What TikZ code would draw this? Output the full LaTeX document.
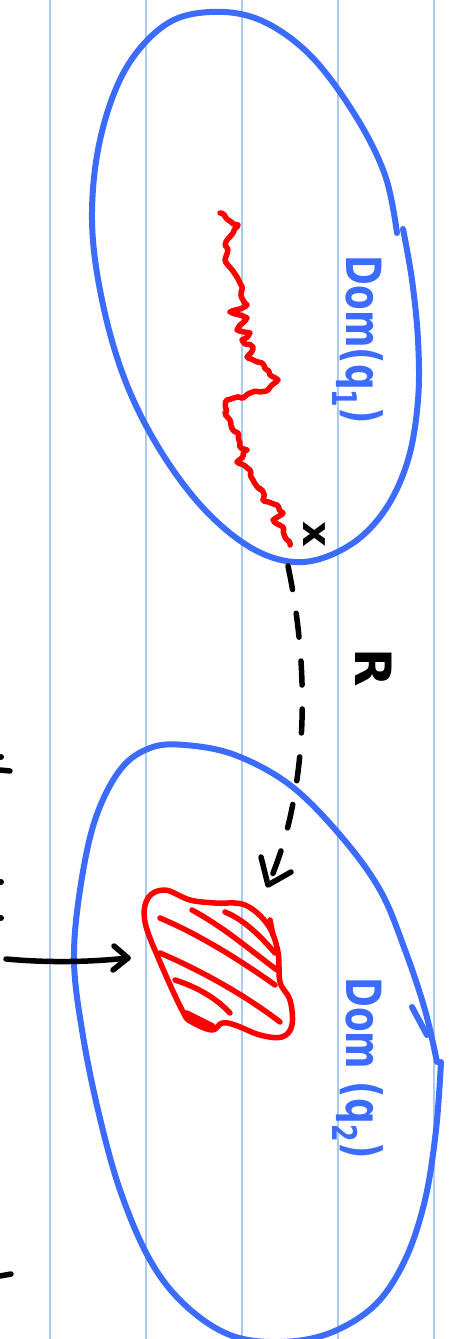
\documentclass[tikz,border=0pt]{standalone}
\usepackage{fontspec}
\setmainfont{DejaVu Sans}
\usetikzlibrary{decorations.pathmorphing}
\definecolor{penblue}{RGB}{59,108,255}
\definecolor{rulecol}{RGB}{165,205,245}
\definecolor{penred}{RGB}{255,0,0}
\tikzset{
  ruleline/.style={draw=rulecol, line width=1.8pt},
  bluepen/.style={draw=penblue, line width=6pt, line cap=round, line join=round},
  redpen/.style={draw=penred, line width=5.5pt, line cap=round, line join=round},
  blackpen/.style={draw=black, line width=5.5pt, line cap=round, line join=round},
  bluelabel/.style={text=penblue, font=\fontsize{36}{36}\selectfont\bfseries, rotate=-90, inner sep=0pt},
  blacklabel/.style={text=black, font=\fontsize{50}{50}\selectfont\bfseries, rotate=-90, inner sep=0pt}
}
\begin{document}
\begin{tikzpicture}[x=1pt,y=-1pt]
\useasboundingbox (0,0) rectangle (452,1339);
\fill[white] (0,0) rectangle (452,1339);
% ruled lines
\foreach \xx in {50,146,242,338,434} \draw[ruleline] (\xx,0) -- (\xx,1339);

% top oval Dom(q1)
\draw[bluepen] plot[smooth, tension=0.6] coordinates {(403,229) (412,280) (418,340) (418,400) (408,460) (385,510) (350,545) (303,562) (255,550) (205,510) (160,450) (125,380) (102,300) (92,220) (100,140) (125,70) (165,25) (210,12) (260,20) (310,55) (355,115) (385,175) (397,233)};

% bottom oval Dom(q2)
\draw[bluepen] plot[smooth, tension=0.6] coordinates {(441,1062) (436,1130) (425,1200) (405,1260) (375,1305) (330,1333) (280,1342) (230,1335) (185,1305) (150,1260) (120,1190) (98,1110) (82,1030) (74,960) (80,890) (95,820) (120,770) (150,748) (185,745) (235,755) (290,785) (340,835) (380,890) (405,950) (425,1010) (437,1062)};
\draw[bluepen] (412,1007) -- (427,1035);

% red random walk
\draw[redpen, decorate, decoration={random steps, segment length=4pt, amplitude=2.2pt}, rounded corners=1.5pt]
 (220,213) -- (238,225) -- (227,240) -- (225,260) -- (237,277) -- (240,283) -- (243,300) -- (247,305) -- (230,312) -- (247,318) -- (237,330) -- (250,333) -- (242,340) -- (253,347) -- (247,357) -- (262,363) -- (270,375) -- (278,380) -- (272,385) -- (268,390) -- (250,393) -- (243,398) -- (227,400) -- (225,413) -- (230,420) -- (233,430) -- (238,433) -- (240,447) -- (247,450) -- (237,462) -- (250,470) -- (253,480) -- (262,490) -- (263,500) -- (277,505) -- (283,513) -- (273,520) -- (283,527) -- (285,537) -- (290,545);

% red blob with hatching
\draw[redpen] plot[smooth cycle, tension=0.6] coordinates {(183,1012) (160,962) (145,922) (148,898) (165,890) (190,900) (215,903) (245,905) (268,925) (278,952) (280,982) (290,1000) (292,1025) (282,1037) (260,1035) (235,1025) (222,1023) (212,1030) (192,1022)};
\draw[redpen, line width=8pt] (186,1014) -- (212,1027);
\draw[redpen] (270,920) -- (273,935);
\draw[redpen] (160,918) .. controls (200,935) and (240,960) .. (275,985);
\draw[redpen] (192,910) .. controls (225,928) and (250,950) .. (277,970);
\draw[redpen] (225,912) .. controls (245,920) and (262,938) .. (275,953);
\draw[redpen] (160,953) .. controls (200,970) and (245,995) .. (280,1022);
\draw[redpen] (175,980) .. controls (200,988) and (218,1000) .. (230,1013);

% labels
\node[bluelabel] (dom1) at (358,340) {\scalebox{1}[1.35]{Dom(q\textsubscript{1})}};
\node[bluelabel] (dom2) at (358,1068) {\scalebox{1}[1.35]{Dom (q\textsubscript{2})}};
\node[blacklabel] (rlab) at (374,668) {R};
\node[blacklabel, font=\fontsize{40}{40}\selectfont\bfseries] (xlab) at (314,534) {x};

% dashed connector R
\coordinate (rstart) at (288,566);
\coordinate (rend) at (268,885);
\draw[blackpen, dash pattern=on 24pt off 24pt] (rstart) .. controls (312,680) and (306,800) .. (rend);
\draw[blackpen] ([shift={(-7,-28)}]rend) -- (rend) -- ([shift={(23,-13)}]rend);

% left arrow into the blob
\coordinate (astart) at (6,959);
\coordinate (aend) at (128,958);
\draw[blackpen] (astart) .. controls (50,963) and (90,962) .. (aend);
\draw[blackpen] ([shift={(-14,-12)}]aend) -- (aend) -- ([shift={(-15,12)}]aend);

% fragments of cut-off text at the left edge
\draw[blackpen] (0,770) -- (10,771);
\fill (1,757) circle (3pt);
\fill (1,882) circle (3pt);
\fill (1,918) circle (3pt);
\draw[blackpen] (0,1276) -- (11,1274);
\end{tikzpicture}
\end{document}
